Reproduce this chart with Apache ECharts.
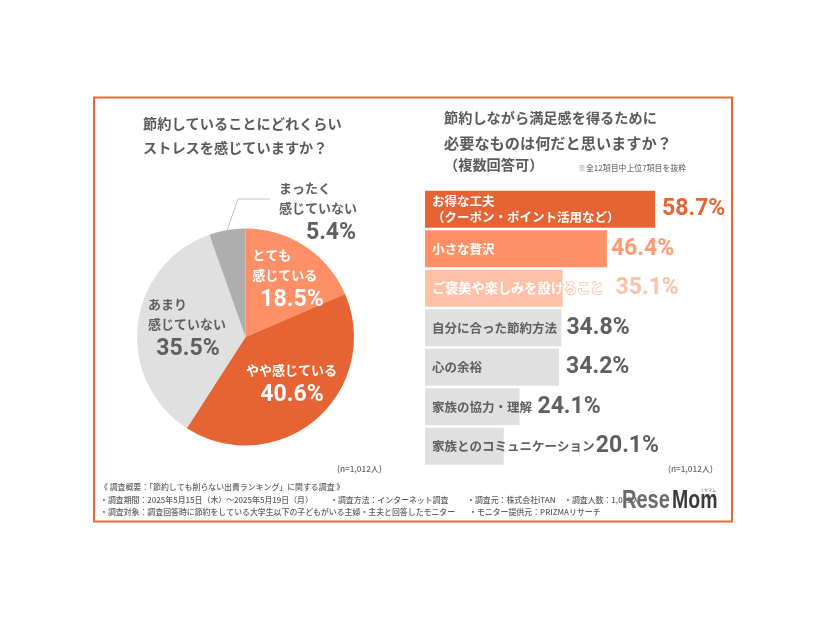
<!DOCTYPE html>
<html><head><meta charset="utf-8">
<script src="https://cdn.jsdelivr.net/npm/echarts@6/dist/echarts.min.js"></script>
<style>html,body{margin:0;padding:0;background:#fff}#c{width:826px;height:620px}</style>
</head><body><div id="c"></div>
<script>
const pieNames = ['とても\n感じている','やや感じている','あまり\n感じていない','まったく\n感じていない'];
const pieValues = [18.5,40.6,35.5,5.4];
const barNames = ['お得な工夫\n（クーポン・ポイント活用など）','小さな贅沢','ご褒美や楽しみを設けること','自分に合った節約方法','心の余裕','家族の協力・理解','家族とのコミュニケーション'];
const barValues = [58.7,46.4,35.1,34.8,34.2,24.1,20.1];

const pieColors = ['#ff8f66','#e66433','#e0e0e0','#aeaeae'];
const pieTextColors = ['#fff','#fff','#5f5f5f','#5f5f5f'];
const pieLabelAnchors = [[288,280],[292,385],[188,329],[319,213]];
const barColors = ['#e66433','#ff8f66','#ffc0a8','#e0e0e0','#e0e0e0','#e0e0e0','#e0e0e0'];
const barTextColors = ['#fff','#fff','#fff','#5f5f5f','#5f5f5f','#5f5f5f','#5f5f5f'];
const valueColors = ['#e66433','#ff9a75','#ffc0a8','#5f5f5f','#5f5f5f','#5f5f5f','#5f5f5f'];
const valueOffsets = [4,1,50,2,4,15,89];

const JP = '"Noto Sans CJK JP","Noto Sans",sans-serif';
const NUM = 'Roboto,sans-serif';
const dark = '#5f5f5f';

function t(text,x,y,size,extra){
  return {type:'text',silent:true,x,y,style:Object.assign({text,font:'500 '+size+'px '+JP,fill:dark,textVerticalAlign:'middle'},extra||{})};
}
function titleAt(text,left,top,size){
  return {text,left,top,padding:0,textStyle:{fontFamily:JP,fontWeight:'bold',fontSize:size,color:'#5a5a5a',lineHeight:size+2}};
}
const chart = echarts.init(document.getElementById('c'),null,{renderer:'canvas'});
chart.setOption({
  animation:false,
  backgroundColor:'#fff',
  title:[
    titleAt('節約していることにどれくらい',143,116,14.2),
    titleAt('ストレスを感じていますか？',143,140,14.2),
    titleAt('節約しながら満足感を得るために',444,110,14.2),
    titleAt('必要なものは何だと思いますか？',444,135,15.2),
    titleAt('（複数回答可）',444,157,14.2)
  ],
  grid:{left:425,top:189.5,width:392,height:276.5},
  xAxis:{type:'value',min:0,max:100,show:false},
  yAxis:{type:'category',inverse:true,data:barNames,show:false},
  series:[
    {type:'pie',center:[245.5,337],radius:[0,108.5],startAngle:90,clockwise:true,silent:true,
      data:pieNames.map((n,i)=>({name:n,value:pieValues[i],itemStyle:{color:pieColors[i]},
        label:{position:i===3?'outside':'inside',color:pieTextColors[i],
          formatter:()=>n.split('\n').map(s=>'{n|'+s+'}').join('\n')+'\n{p|'+pieValues[i].toFixed(1)+'%}',
          rich:{
            n:{fontFamily:JP,fontWeight:'bold',fontSize:13,lineHeight:20,color:pieTextColors[i],width:i===1?92:(i===0?66:80),align:'left'},
            p:{fontFamily:NUM,fontWeight:'bold',fontSize:23,lineHeight:30,color:pieTextColors[i],
               align:i===3?'right':'center',padding:i===0?[0,0,0,8]:(i===3?[0,3,0,0]:0)}
          }},
        labelLine:i===3?{show:true,length:30,length2:33,lineStyle:{color:'#c4c4c4',width:1}}:{show:false}
      })),
      labelLayout:p=>{
        const o={x:pieLabelAnchors[p.dataIndex][0],y:pieLabelAnchors[p.dataIndex][1],align:'center',verticalAlign:'middle',hideOverlap:false};
        if(p.dataIndex===3 && p.labelLinePoints) o.labelLinePoints=[p.labelLinePoints[0],[238,199],[270,199]];
        return o;
      }
    },
    {type:'bar',barWidth:37,silent:true,
      data:barValues.map((v,i)=>({value:v,itemStyle:{color:barColors[i]},
        label:{show:true,position:'insideLeft',distance:7,formatter:barNames[i],color:barTextColors[i],
          fontFamily:JP,fontWeight:'bold',fontSize:i===2?13.2:12.5,lineHeight:16,
          textBorderColor:i===2?'#ffc0a8':'transparent',textBorderWidth:i===2?1.5:0}}))
    },
    {type:'bar',barWidth:37,barGap:'-100%',silent:true,z:3,
      data:barValues.map((v,i)=>({value:v,itemStyle:{color:'transparent'},
        label:{show:true,position:'right',distance:valueOffsets[i]+3,formatter:v.toFixed(1)+'%',color:valueColors[i],
          fontFamily:NUM,fontWeight:'bold',fontSize:23}}))
    }
  ],
  graphic:[
    {type:'rect',silent:true,shape:{x:94,y:97.5,width:638,height:424},style:{fill:'none',stroke:'#e8673a',lineWidth:2},z:-1},
    t('※全12項目中上位7項目を抜粋',578,168,7.9,{fill:'#777'}),
    t('(n=1,012人)',337,469,8.2,{fill:'#666'}),
    t('(n=1,012人)',668,469,8.2,{fill:'#666'}),
    t('《 調査概要：「節約しても削らない出費ランキング」に関する調査 》',100,487,7.9),
    t('・調査期間：2025年5月15日（木）～2025年5月19日（月）',100,500,7.9),
    t('・調査方法：インターネット調査',330,500,7.9),
    t('・調査元：株式会社iTAN',467,500,7.9),
    t('・調査人数：1,012人',564,500,7.9),
    t('・モニター提供元：PRIZMAリサーチ',469,512,7.9),
    t('・調査対象：調査回答時に節約をしている大学生以下の子どもがいる主婦・主夫と回答したモニター',100,512,7.9),
    {type:'text',silent:true,x:622,y:501,scaleX:0.77,z:10,style:{text:'Rese',font:'bold 26px "Liberation Sans",sans-serif',fill:'#6b6b6b',textVerticalAlign:'middle'}},
    {type:'text',silent:true,x:672,y:501,scaleX:0.75,z:10,style:{text:'Mom',font:'bold 26px "Liberation Sans",sans-serif',fill:'#3a3a3a',textVerticalAlign:'middle'}},
    {type:'text',silent:true,x:700,y:490,z:10,style:{text:'リセマム',font:'4px '+JP,fill:'#666',textVerticalAlign:'middle'}}
  ]
});
</script></body></html>
